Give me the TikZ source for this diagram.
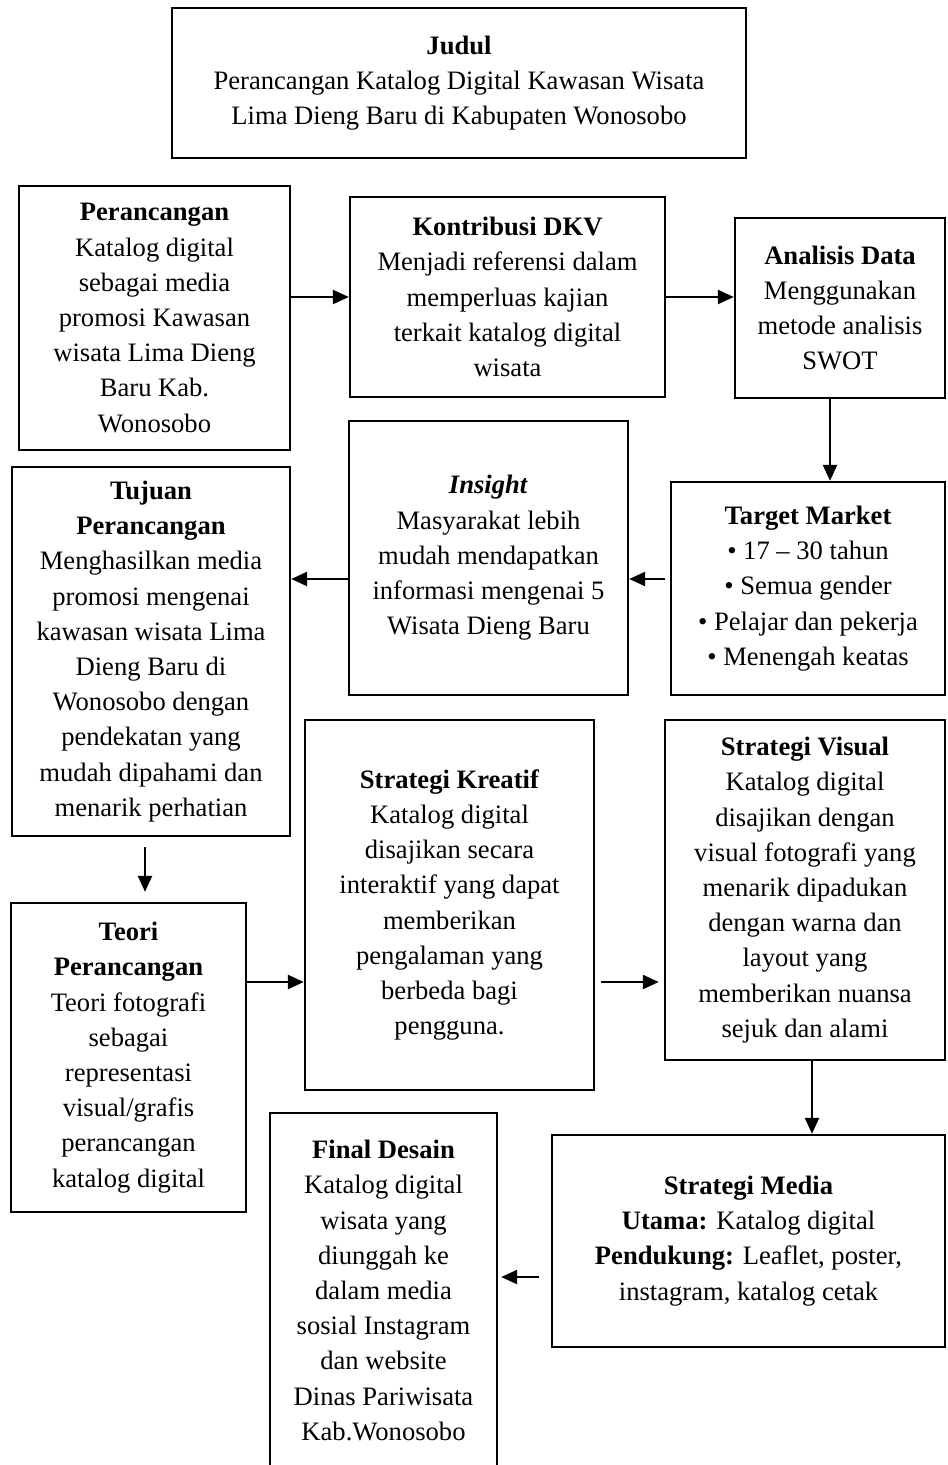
\documentclass[tikz,border=0pt]{standalone}
\usepackage{fontspec}
\setmainfont{Liberation Serif}
\usetikzlibrary{arrows.meta,calc,positioning}
\tikzset{
	box/.style={draw,line width=1.2pt,align=center,inner sep=0pt,font=\fontsize{13.3}{17.6}\selectfont},
	arr/.style={line width=1.2pt,-{Triangle[length=8pt,width=7pt]}},
}
\begin{document}
\begin{tikzpicture}[x=0.5pt,y=-0.5pt]
	\useasboundingbox (0,0) rectangle (947,1465);
	\clip (0,0) rectangle (947,1465);
	% boxes
	\node[box,minimum width=287pt,minimum height=75pt] (judul) at (459,83)
		{\textbf{Judul}\\Perancangan Katalog Digital Kawasan Wisata\\Lima Dieng Baru di Kabupaten Wonosobo};
	\node[box,minimum width=135.5pt,minimum height=132pt] (rancang) at (154.5,318)
		{\textbf{Perancangan}\\Katalog digital\\sebagai media\\promosi Kawasan\\wisata Lima Dieng\\Baru Kab.\\Wonosobo};
	\node[box,minimum width=157.5pt,minimum height=100pt] (dkv) at (507.5,297)
		{\textbf{Kontribusi DKV}\\Menjadi referensi dalam\\memperluas kajian\\terkait katalog digital\\wisata};
	\node[box,minimum width=105pt,minimum height=90pt] (analisis) at (840,308)
		{\textbf{Analisis Data}\\Menggunakan\\metode analisis\\SWOT};
	\node[box,minimum width=139pt,minimum height=184.5pt] (tujuan) at (151,651.5)
		{\textbf{Tujuan}\\\textbf{Perancangan}\\Menghasilkan media\\promosi mengenai\\kawasan wisata Lima\\Dieng Baru di\\Wonosobo dengan\\pendekatan yang\\mudah dipahami dan\\menarik perhatian};
	\node[box,minimum width=139.5pt,minimum height=137pt] (insight) at (488.5,558)
		{\textbf{\textit{Insight}}\\Masyarakat lebih\\mudah mendapatkan\\informasi mengenai 5\\Wisata Dieng Baru};
	\node[box,minimum width=137pt,minimum height=106.5pt] (target) at (808,588.5)
		{\textbf{Target Market}\\\textbullet{} 17 -- 30 tahun\\\textbullet{} Semua gender\\\textbullet{} Pelajar dan pekerja\\\textbullet{} Menengah keatas};
	\node[box,minimum width=144.5pt,minimum height=185pt] (kreatif) at (449.5,905)
		{\textbf{Strategi Kreatif}\\Katalog digital\\disajikan secara\\interaktif yang dapat\\memberikan\\pengalaman yang\\berbeda bagi\\pengguna.};
	\node[box,minimum width=140pt,minimum height=170pt] (visual) at (805,890)
		{\textbf{Strategi Visual}\\Katalog digital\\disajikan dengan\\visual fotografi yang\\menarik dipadukan\\dengan warna dan\\layout yang\\memberikan nuansa\\sejuk dan alami};
	\node[box,minimum width=117.5pt,minimum height=154.5pt] (teori) at (128.5,1057.5)
		{\textbf{Teori}\\\textbf{Perancangan}\\Teori fotografi\\sebagai\\representasi\\visual/grafis\\perancangan\\katalog digital};
	\node[box,minimum width=113.5pt,minimum height=177.5pt] (final) at (383.5,1290.5)
		{\textbf{Final Desain}\\Katalog digital\\wisata yang\\diunggah ke\\dalam media\\sosial Instagram\\dan website\\Dinas Pariwisata\\Kab.Wonosobo};
	\node[box,minimum width=196.5pt,minimum height=106pt] (media) at (748.5,1241)
		{\textbf{Strategi Media}\\\textbf{Utama:} Katalog digital\\\textbf{Pendukung:} Leaflet, poster,\\instagram, katalog cetak};
	% arrows
	\coordinate (row) at (0,982);
	\draw[arr] (rancang.east |- dkv.west) -- (dkv.west);
	\draw[arr] (dkv.east) -- (dkv.east -| analisis.west);
	\draw[arr] ([xshift=-5pt]analisis.south) -- ([xshift=-5pt]analisis.south |- target.north);
	\draw[arr] ([xshift=-2.5pt,yshift=4.75pt]target.west) coordinate (ti) -- (insight.east |- ti);
	\draw[arr] (insight.west |- ti) -- (tujuan.east |- ti);
	\draw[arr,shorten <=5pt,shorten >=5pt] ([xshift=-3pt]tujuan.south) coordinate (tt) -- (tt |- teori.north);
	\draw[arr] (teori.east |- row) -- (kreatif.west |- row);
	\draw[arr,shorten <=3pt,shorten >=2.5pt] (kreatif.east |- row) -- (visual.west |- row);
	\draw[arr] ([xshift=3.5pt]visual.south) coordinate (vm) -- (vm |- media.north);
	\draw[arr,shorten <=6pt,shorten >=1.5pt] ([yshift=-18pt]media.west) coordinate (mf) -- (final.east |- mf);
\end{tikzpicture}
\end{document}
